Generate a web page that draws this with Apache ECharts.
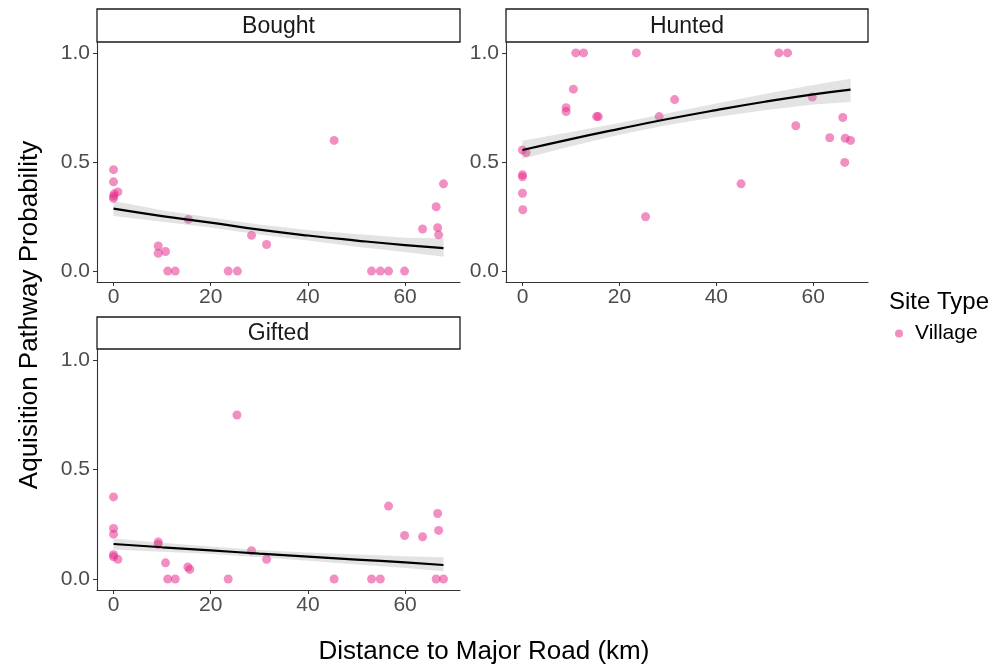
<!DOCTYPE html>
<html>
<head>
<meta charset="utf-8">
<script src="https://cdn.jsdelivr.net/npm/echarts@6/dist/echarts.min.js"></script>
<style>
  html, body { margin: 0; padding: 0; background: #fff; }
  #chart { width: 998px; height: 667px; }
</style>
</head>
<body>
<div id="chart"></div>
<script>
// facet names
var panels = ['Bought', 'Hunted', 'Gifted']

// ticks
var xTicks = [0, 20, 40, 60]
var yTicks = [0, 0.5, 1]

// Bought points
var boughtX = [0, 0, 0.14, 0, 0, 0.9, 15.4, 9.2, 9.2, 10.7, 11.15, 12.7, 23.6, 25.5, 28.4, 31.5, 45.4, 53.1, 54.9, 56.6, 59.9, 63.6, 66.4, 66.7, 66.9, 67.9]
var boughtY = [0.465, 0.409, 0.354, 0.343, 0.333, 0.363, 0.237, 0.115, 0.082, 0.09, 0, 0, 0, 0, 0.164, 0.122, 0.599, 0, 0, 0, 0, 0.193, 0.295, 0.199, 0.166, 0.4]

// Hunted points
var huntedX = [0, 0.75, 0, 0, 0, 0.07, 11.0, 12.6, 10.5, 9.0, 9.0, 15.3, 15.65, 23.5, 25.4, 28.2, 31.4, 45.1, 52.9, 54.7, 56.4, 59.8, 63.4, 66.1, 66.5, 66.6, 67.7]
var huntedY = [0.555, 0.543, 0.442, 0.432, 0.357, 0.281, 1, 1, 0.834, 0.749, 0.731, 0.708, 0.708, 1, 0.249, 0.708, 0.786, 0.4, 1, 1, 0.666, 0.798, 0.611, 0.704, 0.498, 0.609, 0.599]

// Gifted points
var giftedX = [0, 0, 0, 0, 0, 0.9, 9.2, 9.2, 10.7, 11.15, 12.7, 15.3, 15.7, 23.6, 25.4, 28.4, 31.5, 45.4, 53.1, 54.9, 56.6, 59.9, 63.6, 66.4, 66.7, 66.9, 67.9]
var giftedY = [0.375, 0.231, 0.205, 0.111, 0.102, 0.09, 0.169, 0.158, 0.074, 0, 0, 0.055, 0.044, 0, 0.749, 0.129, 0.09, 0, 0, 0, 0.333, 0.199, 0.193, 0, 0.299, 0.222, 0]

// fitted curves + confidence band
var boughtFitX = [0, 10, 20, 30, 40, 50, 60, 67.9]
var boughtFit = [0.286, 0.252, 0.222, 0.190, 0.163, 0.140, 0.119, 0.105]
var boughtLo = [0.252, 0.226, 0.200, 0.168, 0.140, 0.112, 0.088, 0.066]
var boughtHi = [0.321, 0.279, 0.246, 0.213, 0.188, 0.170, 0.153, 0.150]

var huntedFitX = [0, 10, 20, 30, 40, 50, 60, 67.7]
var huntedFit = [0.555, 0.605, 0.652, 0.697, 0.738, 0.776, 0.810, 0.832]
var huntedLo = [0.515, 0.572, 0.625, 0.670, 0.706, 0.737, 0.764, 0.775]
var huntedHi = [0.597, 0.637, 0.679, 0.723, 0.768, 0.812, 0.853, 0.882]

var giftedFitX = [0, 10, 20, 30, 40, 50, 60, 67.9]
var giftedFit = [0.160, 0.145, 0.131, 0.116, 0.102, 0.089, 0.076, 0.064]
var giftedLo = [0.135, 0.125, 0.114, 0.099, 0.083, 0.066, 0.050, 0.036]
var giftedHi = [0.185, 0.166, 0.149, 0.133, 0.121, 0.112, 0.104, 0.100]

var FONT = '"Liberation Sans", Arial, sans-serif'
var POINT = 'rgba(231,41,138,0.65)'
var AXIS = '#333333'
var LABEL = '#4d4d4d'

var grids = [
  { left: 97, top: 42, width: 363, height: 240 },
  { left: 506, top: 42, width: 362, height: 240 },
  { left: 97, top: 349, width: 363, height: 241 }
]

function zip(xs, ys) {
  return xs.map(function(x, i) { return [x, ys[i]] })
}

function makeX(i) {
  return {
    gridIndex: i, type: 'value', min: -3.4, max: 71.3,
    splitLine: { show: false },
    axisLine: { show: true, onZero: false, lineStyle: { color: AXIS, width: 1.1 } },
    axisTick: { show: true, length: 4, customValues: xTicks, lineStyle: { color: AXIS } },
    axisLabel: { customValues: xTicks, margin: 5, color: LABEL, fontSize: 21, fontFamily: FONT }
  }
}

function makeY(i) {
  return {
    gridIndex: i, type: 'value', min: -0.05, max: 1.05,
    splitLine: { show: false },
    axisLine: { show: true, onZero: false, lineStyle: { color: AXIS, width: 1.1 } },
    axisTick: { show: true, length: 4, customValues: yTicks, lineStyle: { color: AXIS } },
    axisLabel: {
      customValues: yTicks, margin: 7, color: LABEL, fontSize: 21, fontFamily: FONT,
      formatter: function(v) { return v.toFixed(1) }
    }
  }
}

function panelSeries(i, xs, ys, fx, fy, lo, hi) {
  return [
    {
      name: 'Village', type: 'scatter', xAxisIndex: i, yAxisIndex: i,
      symbolSize: 9, itemStyle: { color: POINT }, data: zip(xs, ys), z: 2
    },
    {
      // confidence ribbon: polygon lo -> hi reversed
      type: 'custom', xAxisIndex: i, yAxisIndex: i, silent: true, z: 3,
      data: [0],
      renderItem: function(params, api) {
        var pts = []
        for (var k = 0; k < fx.length; k++) pts.push(api.coord([fx[k], lo[k]]))
        for (var k = fx.length - 1; k >= 0; k--) pts.push(api.coord([fx[k], hi[k]]))
        return {
          type: 'polygon',
          shape: { points: pts },
          style: { fill: 'rgba(153,153,153,0.28)' }
        }
      }
    },
    {
      type: 'line', xAxisIndex: i, yAxisIndex: i, smooth: true, symbol: 'none',
      lineStyle: { color: '#000', width: 2.2 }, data: zip(fx, fy), z: 4, silent: true
    }
  ]
}

// strip boxes above each panel
function strip(g, label, top) {
  return [
    {
      type: 'rect', shape: { x: g.left, y: top, width: g.width, height: g.top - top },
      style: { fill: '#fff', stroke: '#1a1a1a', lineWidth: 1.3 }
    },
    {
      type: 'text', x: g.left + g.width / 2, y: (top + g.top) / 2 + 1,
      style: { text: label, font: '23px ' + FONT, fill: '#1a1a1a', textAlign: 'center', textVerticalAlign: 'middle' }
    }
  ]
}

var chart = echarts.init(document.getElementById('chart'))

var series = []
  .concat(panelSeries(0, boughtX, boughtY, boughtFitX, boughtFit, boughtLo, boughtHi))
  .concat(panelSeries(1, huntedX, huntedY, huntedFitX, huntedFit, huntedLo, huntedHi))
  .concat(panelSeries(2, giftedX, giftedY, giftedFitX, giftedFit, giftedLo, giftedHi))

var graphics = []
  .concat(strip(grids[0], panels[0], 9))
  .concat(strip(grids[1], panels[1], 9))
  .concat(strip(grids[2], panels[2], 317))

graphics.push({
  type: 'text', x: 30, y: 315, rotation: Math.PI / 2,
  style: { text: 'Aquisition Pathway Probability', font: '26px ' + FONT, fill: '#000', textAlign: 'center', textVerticalAlign: 'middle' }
})
graphics.push({
  type: 'text', x: 484, y: 652,
  style: { text: 'Distance to Major Road (km)', font: '26px ' + FONT, fill: '#000', textAlign: 'center', textVerticalAlign: 'middle' }
})
graphics.push({
  type: 'text', x: 889, y: 302,
  style: { text: 'Site Type', font: '24px ' + FONT, fill: '#000', textAlign: 'left', textVerticalAlign: 'middle' }
})

chart.setOption({
  animation: false,
  backgroundColor: '#fff',
  grid: grids,
  xAxis: [makeX(0), makeX(1), makeX(2)],
  yAxis: [makeY(0), makeY(1), makeY(2)],
  legend: {
    data: ['Village'], left: 890, top: 318, icon: 'circle',
    itemWidth: 22, itemHeight: 8, itemGap: 8,
    textStyle: { fontSize: 21, fontFamily: FONT, color: '#000' }
  },
  graphic: graphics,
  series: series
})
</script>
</body>
</html>
